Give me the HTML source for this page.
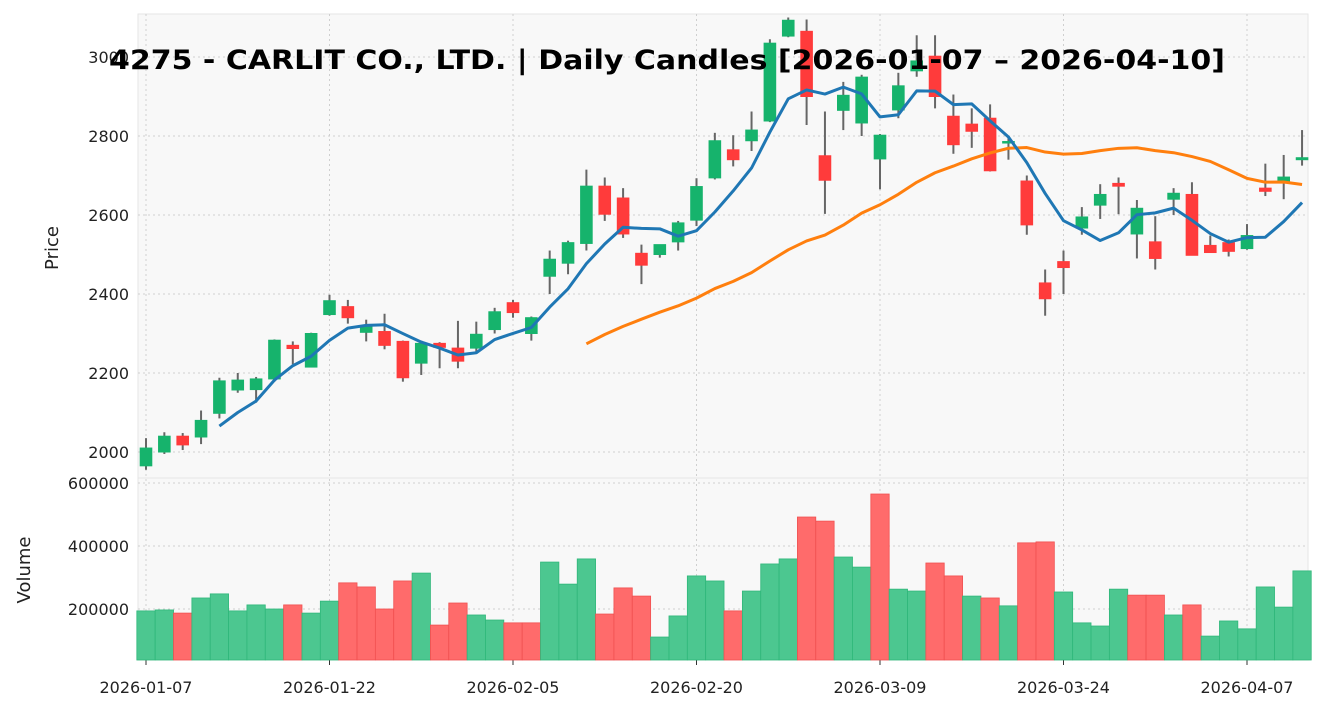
<!DOCTYPE html>
<html><head><meta charset="utf-8"><style>
body{margin:0;background:#fff;}
svg{display:block;font-family:"DejaVu Sans","Liberation Sans",sans-serif;}
</style></head><body>
<svg id="chart" width="1324" height="711" viewBox="0 0 1324 711"></svg>
<script>
const dates=["2026-01-07","2026-01-08","2026-01-09","2026-01-13","2026-01-14","2026-01-15","2026-01-16","2026-01-19","2026-01-20","2026-01-21","2026-01-22","2026-01-23","2026-01-26","2026-01-27","2026-01-28","2026-01-29","2026-01-30","2026-02-02","2026-02-03","2026-02-04","2026-02-05","2026-02-06","2026-02-09","2026-02-10","2026-02-12","2026-02-13","2026-02-16","2026-02-17","2026-02-18","2026-02-19","2026-02-20","2026-02-24","2026-02-25","2026-02-26","2026-02-27","2026-03-02","2026-03-03","2026-03-04","2026-03-05","2026-03-06","2026-03-09","2026-03-10","2026-03-11","2026-03-12","2026-03-13","2026-03-16","2026-03-17","2026-03-18","2026-03-19","2026-03-23","2026-03-24","2026-03-25","2026-03-26","2026-03-27","2026-03-30","2026-03-31","2026-04-01","2026-04-02","2026-04-03","2026-04-06","2026-04-07","2026-04-08","2026-04-09","2026-04-10"];
const opens=[1965,2000,2040,2038,2098,2157,2158,2185,2270,2215,2348,2368,2303,2305,2280,2225,2275,2263,2263,2310,2378,2300,2445,2478,2528,2673,2643,2503,2500,2532,2587,2694,2765,2788,2838,3053,3065,2750,2865,2833,2742,2866,2965,3002,2850,2830,2845,2783,2686,2428,2482,2567,2625,2680,2552,2532,2640,2652,2523,2530,2515,2668,2686,2740];
const highs=[2035,2050,2048,2105,2188,2200,2190,2285,2280,2302,2398,2385,2335,2350,2282,2282,2278,2332,2330,2365,2385,2343,2510,2535,2715,2695,2668,2525,2525,2585,2693,2808,2802,2862,3045,3100,3095,2862,2937,2955,2805,2960,3055,3055,2905,2870,2880,2798,2700,2462,2510,2620,2678,2695,2638,2597,2668,2683,2548,2538,2577,2730,2752,2815];
const lows=[1955,1995,2005,2020,2085,2150,2125,2178,2222,2215,2345,2325,2280,2260,2178,2195,2212,2212,2250,2300,2340,2282,2400,2450,2510,2585,2542,2425,2492,2510,2572,2690,2723,2762,2835,3050,2828,2603,2815,2800,2665,2845,2950,2870,2755,2770,2710,2740,2550,2345,2400,2550,2590,2602,2490,2462,2600,2498,2505,2495,2512,2648,2640,2725];
const closes=[2010,2040,2018,2080,2180,2182,2185,2283,2262,2300,2383,2340,2318,2270,2188,2275,2265,2230,2298,2355,2353,2340,2488,2530,2673,2602,2552,2473,2525,2580,2672,2788,2740,2815,3035,3093,2900,2688,2903,2949,2802,2927,2990,2900,2778,2812,2712,2786,2575,2388,2467,2595,2652,2673,2617,2490,2655,2498,2505,2508,2548,2660,2696,2745];
const volumes=[194000,197000,187000,235000,248000,194000,213000,200000,213000,187000,225000,283000,270000,200000,289000,314000,149000,219000,181000,165000,156000,156000,349000,279000,359000,184000,267000,241000,111000,178000,305000,289000,194000,257000,343000,359000,492000,479000,365000,333000,565000,263000,257000,346000,305000,241000,235000,210000,410000,413000,254000,156000,146000,263000,244000,244000,181000,213000,114000,162000,137000,270000,206000,321000];
const priceTicks=[2000,2200,2400,2600,2800,3000];
const volTicks=[200000,400000,600000];
const xTickIdx=[0,10,20,30,40,50,60];

const NS="http://www.w3.org/2000/svg";
const svg=document.getElementById('chart');
function mk(tag,attrs,parent){const e=document.createElementNS(NS,tag);for(const k in attrs)e.setAttribute(k,attrs[k]);(parent||svg).appendChild(e);return e;}
const L=138,R=1308,PT=14,PB=478,VT=478,VB=660;
const xs=i=>146+i*18.35;
const yp=p=>452-(p-2000)*0.395;
const yv=v=>672-v/200000*63;
const GREEN="#16b36c",RED="#ff3b3b",VG="#4cc790",VR="#ff6b6b";

let e;
e=mk('rect',{x:L,y:PT,width:R-L,height:PB-PT,fill:"#f8f8f8",stroke:"#e6e6e6"});


e=mk('rect',{x:L,y:VT,width:R-L,height:VB-VT,fill:"#f8f8f8",stroke:"#e6e6e6"});



xTickIdx.forEach(i=>{
  e=mk('line',{x1:xs(i),x2:xs(i),y1:PT,y2:VB,stroke:"#cfcfcf","stroke-dasharray":"2,3"});
  
  
  e=mk('line',{x1:xs(i),x2:xs(i),y1:VB,y2:VB+5,stroke:"#333"});
  
  
  e=mk('text',{x:xs(i),y:VB+33,"font-size":"16","text-anchor":"middle",fill:"#222"});
  e.textContent=dates[i];
  
  
});
priceTicks.forEach(p=>{
  e=mk('line',{x1:L,x2:R,y1:yp(p),y2:yp(p),stroke:"#cfcfcf","stroke-dasharray":"2,3"});
  
  
  e=mk('text',{x:L-9,y:yp(p)+6,"font-size":"16","text-anchor":"end",fill:"#222"});
  e.textContent=p;
  
  
});
volTicks.forEach(v=>{
  e=mk('line',{x1:L,x2:R,y1:yv(v),y2:yv(v),stroke:"#cfcfcf","stroke-dasharray":"2,3"});
  
  
  e=mk('text',{x:L-9,y:yv(v)+6,"font-size":"16","text-anchor":"end",fill:"#222"});
  e.textContent=v;
  
  
});

volumes.forEach((v,i)=>{
  const up=i===0?closes[0]>=opens[0]:closes[i]>=closes[i-1];
  e=mk('rect',{x:xs(i)-9.17,y:yv(v),width:18.35,height:VB-yv(v),fill:up?VG:VR,stroke:up?"#2fb77a":"#f05050","stroke-width":0.8});
  
  
});

closes.forEach((c,i)=>{
  const o=opens[i],up=c>=o,col=up?GREEN:RED;
  e=mk('line',{x1:xs(i),x2:xs(i),y1:yp(highs[i]),y2:yp(lows[i]),stroke:"#666","stroke-width":2});
  
  
  const top=yp(Math.max(o,c)),h=Math.max(1.5,Math.abs(yp(o)-yp(c)));
  e=mk('rect',{x:xs(i)-5.8,y:top,width:11.6,height:h,fill:col,stroke:col,"stroke-width":1});
  
  
});

function sma(n){const out=[];for(let i=n-1;i<closes.length;i++){let s=0;for(let j=i-n+1;j<=i;j++)s+=closes[j];out.push([i,s/n]);}return out;}
function drawMA(n,col,name){
  const pts=sma(n).map(([i,v])=>xs(i)+","+yp(v)).join(" ");
  e=mk('polyline',{points:pts,fill:"none",stroke:col,"stroke-width":3,"stroke-linejoin":"round"});
  
  
}
drawMA(25,"#ff7f0e","ma25-line");
drawMA(5,"#1f77b4","ma5-line");

e=mk('text',{x:58,y:248,"font-size":"18","text-anchor":"middle",fill:"#222",transform:"rotate(-90 58 248)"});
e.textContent="Price";


e=mk('text',{x:30,y:570,"font-size":"18","text-anchor":"middle",fill:"#222",transform:"rotate(-90 30 570)"});
e.textContent="Volume";


e=mk('text',{x:667,y:69,"font-size":"27","font-weight":"bold","text-anchor":"middle",fill:"#000",textLength:"1116",lengthAdjust:"spacingAndGlyphs"});
e.textContent="4275 - CARLIT CO., LTD. | Daily Candles [2026-01-07 – 2026-04-10]";


</script>
</body></html>
